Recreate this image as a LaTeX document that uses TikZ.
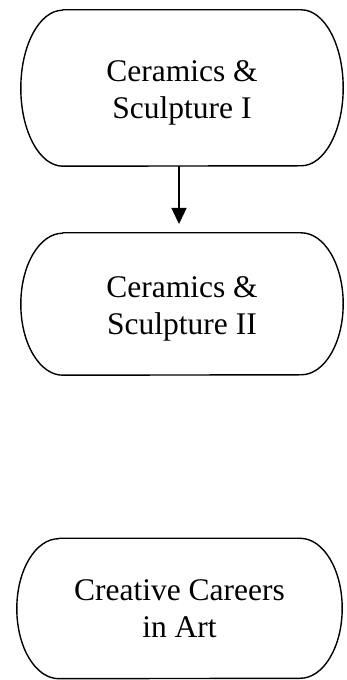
\documentclass[tikz,border=0pt]{standalone}
\usepackage{fontspec}
\setmainfont{Liberation Serif}
\usetikzlibrary{arrows.meta}
\tikzset{
  term/.style={align=center, inner sep=0pt, font=\fontsize{31.5}{36.5}\selectfont},
  outl/.style={line width=1.4pt, line join=round},
  conn/.style={line width=1.4pt, -{Triangle[length=16pt,width=15pt]}}
}
\newcommand{\termoutline}[3]{% node, x radius, y radius
  \draw[outl] ([xshift=#2]#1.north west) -- ([xshift=-#2]#1.north east)
    arc[start angle=90, end angle=-90, x radius=#2, y radius=#3]
    -- ([xshift=#2]#1.south west)
    arc[start angle=270, end angle=90, x radius=#2, y radius=#3] -- cycle;}
\begin{document}
\begin{tikzpicture}[x=1pt,y=1pt]
\useasboundingbox (0,0) rectangle (346,680);
\node[term, minimum width=322pt, minimum height=156pt] (a) at (182,592) {\rule{0pt}{30.5pt}Ceramics \&\\Sculpture I};
\node[term, minimum width=322pt, minimum height=142pt] (b) at (182,376) {\rule{0pt}{30.5pt}Ceramics \&\\Sculpture II};
\node[term, minimum width=325pt, minimum height=140pt] (c) at (179.5,71.5) {Creative Careers\\in Art};
\termoutline{a}{42pt}{78pt}
\termoutline{b}{42pt}{71pt}
\termoutline{c}{42pt}{70pt}
\coordinate (tip) at (179,456);
\draw[conn] (a.south -| tip) -- (tip);
\end{tikzpicture}
\end{document}
